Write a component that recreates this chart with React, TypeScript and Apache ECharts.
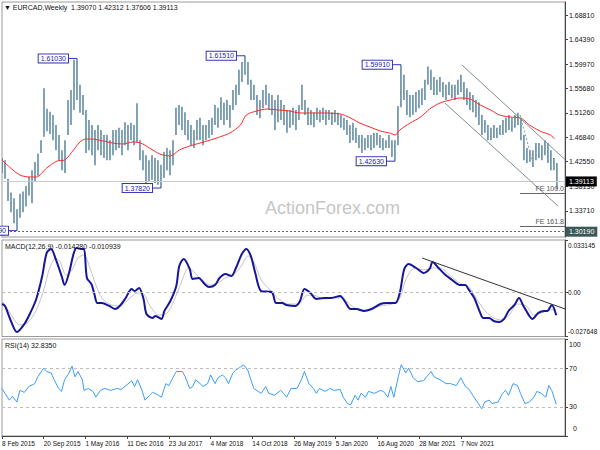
import React, { useEffect, useRef } from 'react';
import * as echarts from 'echarts';

const FONT = "'Liberation Sans', Arial, sans-serif";
const WEEK_SPAN = 377.9;
const BAR_STEP = 2.0134;
const PRICE_MIN = 1.2905;
const PRICE_MAX = 1.7114;
const MACD_MIN = -0.027648;
const MACD_MAX = 0.033145;
const RSI_MIN = 0;
const RSI_MAX = 100;

const xLabels = ['8 Feb 2015', '20 Sep 2015', '1 May 2016', '11 Dec 2016', '23 Jul 2017', '4 Mar 2018', '14 Oct 2018', '26 May 2019', '5 Jan 2020', '16 Aug 2020', '28 Mar 2021', '7 Nov 2021'];
const labelWeeks = xLabels.map((_, k) => k * 28);
const priceTicks = [1.6881, 1.6439, 1.5997, 1.5568, 1.5126, 1.4684, 1.4255, 1.3813, 1.3371];
const macdTicks = [MACD_MIN, 0, MACD_MAX];
const rsiTicks = [0, 30, 70, 100];
const rsiLabelValues = [30, 70, 100];

const lows = [1.405, 1.395, 1.355, 1.335, 1.315, 1.3019, 1.325, 1.335, 1.345, 1.365,
  1.351, 1.390, 1.400, 1.441, 1.470, 1.480, 1.475, 1.464, 1.446, 1.428,
  1.410, 1.405, 1.473, 1.491, 1.518, 1.536, 1.513, 1.509, 1.441, 1.446,
  1.437, 1.419, 1.446, 1.437, 1.432, 1.428, 1.428, 1.437, 1.446, 1.450,
  1.437, 1.455, 1.446, 1.464, 1.455, 1.460, 1.428, 1.410, 1.387, 1.389,
  1.393, 1.387, 1.384, 1.3782, 1.396, 1.410, 1.401, 1.419, 1.473, 1.491,
  1.482, 1.473, 1.464, 1.455, 1.450, 1.464, 1.464, 1.455, 1.464, 1.468,
  1.473, 1.491, 1.486, 1.500, 1.491, 1.500, 1.486, 1.518, 1.527, 1.545,
  1.568, 1.581, 1.563, 1.536, 1.536, 1.509, 1.503, 1.521, 1.527, 1.518,
  1.509, 1.482, 1.496, 1.500, 1.491, 1.477, 1.486, 1.491, 1.482, 1.500,
  1.518, 1.509, 1.491, 1.491, 1.487, 1.500, 1.496, 1.500, 1.491, 1.500,
  1.491, 1.496, 1.491, 1.486, 1.482, 1.473, 1.459, 1.464, 1.459, 1.450,
  1.441, 1.446, 1.450, 1.446, 1.450, 1.455, 1.450, 1.446, 1.450, 1.450,
  1.434, 1.4263, 1.455, 1.523, 1.536, 1.509, 1.505, 1.509, 1.514, 1.521,
  1.527, 1.536, 1.563, 1.554, 1.545, 1.545, 1.550, 1.541, 1.536, 1.545,
  1.539, 1.536, 1.545, 1.550, 1.536, 1.527, 1.518, 1.514, 1.505, 1.491,
  1.473, 1.477, 1.464, 1.464, 1.468, 1.468, 1.473, 1.473, 1.477, 1.482,
  1.479, 1.486, 1.491, 1.464, 1.428, 1.423, 1.425, 1.416, 1.428, 1.432,
  1.428, 1.437, 1.423, 1.410, 1.410, 1.376];

const highs = [1.432, 1.428, 1.395, 1.370, 1.360, 1.340, 1.368, 1.372, 1.382, 1.398,
  1.410, 1.425, 1.440, 1.464, 1.557, 1.520, 1.515, 1.509, 1.491, 1.473,
  1.446, 1.464, 1.536, 1.554, 1.608, 1.6103, 1.563, 1.545, 1.518, 1.500,
  1.491, 1.482, 1.491, 1.482, 1.473, 1.473, 1.464, 1.482, 1.482, 1.486,
  1.482, 1.496, 1.491, 1.495, 1.491, 1.530, 1.464, 1.446, 1.437, 1.428,
  1.437, 1.432, 1.428, 1.420, 1.443, 1.450, 1.446, 1.464, 1.522, 1.527,
  1.524, 1.514, 1.500, 1.491, 1.482, 1.500, 1.504, 1.491, 1.491, 1.500,
  1.504, 1.527, 1.522, 1.541, 1.531, 1.536, 1.527, 1.554, 1.563, 1.590,
  1.604, 1.6151, 1.604, 1.572, 1.563, 1.545, 1.536, 1.554, 1.563, 1.548,
  1.545, 1.536, 1.545, 1.536, 1.527, 1.518, 1.518, 1.522, 1.518, 1.527,
  1.563, 1.536, 1.522, 1.518, 1.514, 1.522, 1.518, 1.522, 1.518, 1.518,
  1.514, 1.518, 1.513, 1.509, 1.504, 1.500, 1.491, 1.495, 1.486, 1.473,
  1.473, 1.468, 1.473, 1.473, 1.477, 1.477, 1.473, 1.468, 1.464, 1.473,
  1.464, 1.464, 1.525, 1.5991, 1.581, 1.554, 1.545, 1.545, 1.550, 1.554,
  1.557, 1.572, 1.596, 1.590, 1.577, 1.572, 1.577, 1.568, 1.563, 1.568,
  1.563, 1.563, 1.572, 1.581, 1.568, 1.557, 1.550, 1.545, 1.536, 1.532,
  1.509, 1.500, 1.491, 1.486, 1.491, 1.486, 1.491, 1.500, 1.504, 1.509,
  1.504, 1.509, 1.513, 1.504, 1.473, 1.450, 1.446, 1.446, 1.459, 1.459,
  1.455, 1.464, 1.459, 1.446, 1.432, 1.423];

const maWeeks = [0, 5, 12, 19, 23, 30, 37, 42, 48, 54, 60, 68, 74, 81, 88, 93, 99, 106, 113, 119, 126, 133, 140, 146, 153, 160, 164, 171, 178, 185, 193, 200, 213, 227, 234, 240, 247, 254, 260, 264, 267, 274, 281, 287, 294, 301, 307, 314, 321, 328, 334, 341, 348, 354, 361, 368, 371];
const maValues = [1.4284, 1.4159, 1.4015, 1.3980, 1.3980, 1.4141, 1.4266, 1.4284, 1.4463, 1.4642, 1.4660, 1.4624, 1.4589, 1.4571, 1.4607, 1.4589, 1.4499, 1.4391, 1.4356, 1.4463, 1.4535, 1.4589, 1.4642, 1.4696, 1.4768, 1.4911, 1.5090, 1.5162, 1.5197, 1.5180, 1.5162, 1.5126, 1.5126, 1.5108, 1.5036, 1.4947, 1.4875, 1.4803, 1.4768, 1.4732, 1.4821, 1.4947, 1.5054, 1.5197, 1.5305, 1.5359, 1.5394, 1.5377, 1.5269, 1.5180, 1.5090, 1.5054, 1.5036, 1.4911, 1.4803, 1.4732, 1.4660];

const macdWeeks = [0, 2, 6, 10, 15, 19, 23, 27, 30, 33, 36, 40, 42, 45, 48, 50, 53, 55, 57, 60, 62, 64, 67, 72, 76, 79, 83, 87, 89, 92, 95, 97, 101, 103, 107, 109, 113, 117, 119, 122, 126, 128, 132, 136, 139, 143, 146, 150, 154, 157, 161, 164, 167, 170, 174, 181, 184, 188, 191, 197, 200, 203, 207, 211, 216, 221, 227, 230, 234, 238, 243, 248, 254, 258, 264, 267, 270, 273, 278, 283, 287, 289, 293, 297, 303, 307, 311, 313, 317, 321, 323, 327, 330, 334, 337, 340, 344, 347, 350, 354, 356, 360, 364, 366, 369, 372];
const macdValues = [-0.0072, -0.0084, -0.0179, -0.0248, -0.0198, -0.0128, -0.0040, 0.0105, 0.0250, 0.0275, 0.0212, 0.0105, 0.0048, 0.0124, 0.0243, 0.0281, 0.0275, 0.0275, 0.0092, 0.0054, -0.0009, -0.0066, -0.0066, -0.0084, -0.0103, -0.0084, -0.0034, 0.0023, 0.0010, 0.0029, -0.0040, -0.0135, -0.0160, -0.0147, -0.0166, -0.0116, -0.0053, 0.0042, 0.0168, 0.0212, 0.0149, 0.0086, 0.0092, 0.0054, 0.0035, 0.0048, 0.0092, 0.0117, 0.0105, 0.0155, 0.0243, 0.0275, 0.0231, 0.0124, 0.0010, 0.0004, -0.0066, -0.0066, -0.0078, -0.0084, -0.0053, 0.0023, -0.0002, -0.0040, -0.0034, -0.0034, -0.0021, -0.0053, -0.0103, -0.0103, -0.0116, -0.0103, -0.0072, -0.0066, -0.0066, -0.0002, 0.0149, 0.0180, 0.0155, 0.0124, 0.0149, 0.0193, 0.0155, 0.0117, 0.0073, 0.0048, 0.0048, 0.0023, -0.0034, -0.0128, -0.0160, -0.0160, -0.0179, -0.0185, -0.0166, -0.0116, -0.0078, -0.0034, -0.0084, -0.0147, -0.0166, -0.0128, -0.0116, -0.0116, -0.0078, -0.0143];

const signalWeeks = [0, 5, 12, 17, 23, 28, 32, 36, 39, 43, 47, 51, 55, 59, 63, 67, 72, 78, 83, 89, 94, 99, 105, 110, 115, 121, 125, 129, 134, 140, 145, 150, 156, 161, 165, 169, 174, 180, 185, 192, 199, 204, 209, 216, 223, 228, 234, 240, 247, 254, 262, 267, 271, 277, 283, 289, 294, 301, 307, 314, 319, 325, 330, 336, 341, 346, 352, 357, 362, 368, 372];
const signalValues = [-0.0047, -0.0122, -0.0204, -0.0191, -0.0110, 0.0016, 0.0155, 0.0218, 0.0193, 0.0111, 0.0143, 0.0218, 0.0237, 0.0155, 0.0048, -0.0034, -0.0072, -0.0084, -0.0059, -0.0009, -0.0002, -0.0078, -0.0141, -0.0135, -0.0059, 0.0080, 0.0155, 0.0130, 0.0080, 0.0048, 0.0061, 0.0092, 0.0117, 0.0174, 0.0231, 0.0193, 0.0080, 0.0016, -0.0034, -0.0072, -0.0072, -0.0021, -0.0015, -0.0040, -0.0034, -0.0034, -0.0078, -0.0110, -0.0110, -0.0084, -0.0072, -0.0034, 0.0080, 0.0155, 0.0143, 0.0155, 0.0155, 0.0105, 0.0061, 0.0029, -0.0047, -0.0122, -0.0160, -0.0173, -0.0135, -0.0072, -0.0084, -0.0141, -0.0128, -0.0110, -0.0109];

const rsiWeeks = [0, 2, 5, 7, 10, 12, 15, 18, 22, 24, 28, 30, 33, 35, 38, 40, 42, 45, 47, 49, 51, 54, 55, 58, 61, 63, 66, 69, 73, 77, 80, 84, 87, 89, 91, 94, 96, 99, 101, 104, 107, 110, 112, 115, 117, 121, 123, 126, 128, 130, 133, 135, 138, 140, 143, 145, 148, 150, 152, 155, 157, 160, 162, 165, 167, 169, 172, 174, 177, 179, 183, 187, 189, 191, 194, 198, 201, 203, 206, 209, 211, 213, 217, 220, 223, 227, 229, 232, 234, 237, 239, 241, 244, 246, 250, 254, 256, 259, 261, 263, 266, 268, 271, 273, 276, 279, 283, 285, 288, 290, 294, 298, 301, 305, 308, 311, 313, 316, 319, 322, 324, 327, 329, 333, 336, 338, 340, 343, 346, 348, 351, 354, 357, 359, 362, 365, 367, 369, 372];
const rsiValues = [49, 44, 37, 41, 35, 47, 45, 51, 54, 61, 70, 66.5, 65, 58, 49, 46, 58, 65, 72, 61, 66.5, 58, 47, 49, 46, 40, 47, 49, 47, 49, 48, 53, 57, 51, 58, 47, 37, 42, 45, 43, 40, 54, 52, 61, 66.5, 66.5, 61, 49, 51, 58, 54, 51, 54, 63, 54, 60, 63, 60, 54, 65, 68, 71, 73.5, 68, 58, 49, 46, 44, 51, 44, 42, 47, 44, 40, 49, 49, 58, 66.5, 54, 49, 44, 49, 46, 49, 47, 48, 40, 33.5, 32, 42, 37, 44, 40, 46, 44, 47, 46, 40, 51, 40, 61, 73.5, 65, 70, 60, 56, 57, 61, 66.5, 61, 58, 54, 54, 52, 60, 51, 49, 42, 35, 28, 35, 37, 33.5, 35, 44, 47, 42, 54, 52, 44, 33.5, 35, 40, 46, 44, 40, 52, 47, 32.8];

const pivotBars = [5, 25, 53, 81, 131, 133];
const pivotPrices = [1.3019, 1.6103, 1.3782, 1.6151, 1.4263, 1.5991];

const lastPrice = 1.39113;
const supportPrice = 1.3019;
const fibLevels = [{ name: 'FE 100.0', price: 1.3693 }, { name: 'FE 161.8', price: 1.3102 }];
const fibStartWeek = 347.7;
const channelUpper = [[308.7, 1.5986], [377.9, 1.4293]];
const channelLower = [[297.3, 1.5305], [373.2, 1.3460]];
const innerDotted = [[347.7, 1.5090], [356.4, 1.4230]];
const macdTrend = [[282, 0.0218], [377.9, -0.0103]];

const txt = { fontSize: 7, fontFamily: FONT, color: '#111' };
const txtSmall = { fontSize: 6.5, fontFamily: FONT, color: '#111' };

function edgeRich(t: any) {
  return {
    top: { padding: [10, 0, 0, 0], ...t },
    bot: { padding: [0, 0, 11, 0], ...t },
  };
}

function xAxis(gridIndex: number, showLabels: boolean) {
  return {
    type: 'value', gridIndex, min: 0, max: WEEK_SPAN,
    axisLine: { show: showLabels, onZero: false, lineStyle: { color: '#444' } },
    axisTick: showLabels
      ? { show: true, customValues: labelWeeks, length: 3, lineStyle: { color: '#444' } }
      : { show: false },
    axisLabel: showLabels
      ? { show: true, customValues: labelWeeks, formatter: (v: number) => xLabels[Math.round(v / 28)] ?? '', align: 'left', margin: 4, ...txtSmall }
      : { show: false },
    splitLine: { show: false },
  };
}

function yAxisCfg(gridIndex: number, min: number, max: number, ticks: number[], labelValues: number[], formatter: (v: number) => string, t: any, margin: number) {
  return {
    type: 'value', gridIndex, position: 'right', min, max,
    axisLine: { show: true, onZero: false, lineStyle: { color: '#444' } },
    axisTick: { show: true, customValues: ticks, length: 3, lineStyle: { color: '#444' } },
    axisLabel: { show: true, showMinLabel: true, showMaxLabel: true, customValues: labelValues, formatter, margin, rich: edgeRich(t), ...t },
    splitLine: { show: false },
  };
}

const gridBase = { show: true, borderColor: '#9a9a9a', borderWidth: 1, left: 2, width: 563, outerBoundsMode: 'none' };

const lineStyleCh = { color: '#7f8f8f', width: 1, type: 'solid' };

const option = {
  animation: false,
  backgroundColor: '#ffffff',
  title: [
    { text: '▼ EURCAD,Weekly  1.39070 1.42312 1.37606 1.39113', left: 4, top: 4, padding: 0, textStyle: { ...txt, fontWeight: 'normal' } },
    { text: 'MACD(12,26,9) -0.014280 -0.010939', left: 5, top: 243, padding: 0, textStyle: { ...txt, fontWeight: 'normal' } },
    { text: 'RSI(14) 32.8350', left: 5, top: 342, padding: 0, textStyle: { ...txt, fontWeight: 'normal' } },
    { text: String(RSI_MIN), left: 573, top: 425, padding: 0, textStyle: { ...txt, fontWeight: 'normal' } },
  ],
  graphic: [
    { type: 'text', left: 265, top: 199, z: 0, style: { text: 'ActionForex.com', fontSize: 18, fontFamily: FONT, fill: '#c6c6c6' } },
  ],
  grid: [
    { ...gridBase, top: 2, height: 235 },
    { ...gridBase, top: 240, height: 96.5 },
    { ...gridBase, top: 339, height: 97 },
  ],
  xAxis: [xAxis(0, false), xAxis(1, false), xAxis(2, true)],
  yAxis: [
    yAxisCfg(0, PRICE_MIN, PRICE_MAX, priceTicks, priceTicks, (v: number) => v.toFixed(5), txt, 4),
    yAxisCfg(1, MACD_MIN, MACD_MAX, macdTicks, macdTicks, (v: number) => {
      const t = Math.abs(v) < 1e-12 ? '0.00' : v.toFixed(6);
      if (Math.abs(v - MACD_MAX) < 1e-9) return `{top|${t}}`;
      if (Math.abs(v - MACD_MIN) < 1e-9) return `{bot|${t}}`;
      return t;
    }, txtSmall, 3),
    yAxisCfg(2, RSI_MIN, RSI_MAX, rsiTicks, rsiLabelValues, (v: number) => {
      if (Math.abs(v - 100) < 1e-9) return '{top|100}';
      return String(v);
    }, txt, 4),
  ],
  series: [
    {
      type: 'custom', name: 'EURCAD', xAxisIndex: 0, yAxisIndex: 0, clip: true, z: 2,
      data: lows.map((l, i) => [i * BAR_STEP, l, highs[i]]),
      encode: { x: 0, y: [1, 2] },
      renderItem: (params: any, api: any) => {
        const x = api.value(0);
        const lo = api.coord([x, api.value(1)]);
        const hi = api.coord([x, api.value(2)]);
        return { type: 'line', shape: { x1: lo[0], y1: lo[1], x2: hi[0], y2: hi[1] }, style: { stroke: '#4d7c98', lineWidth: 1.4 } };
      },
    },
    {
      type: 'line', name: 'MA', xAxisIndex: 0, yAxisIndex: 0, z: 3,
      data: maWeeks.map((w, i) => [w, maValues[i]]),
      smooth: 0.3, showSymbol: false, lineStyle: { color: '#ff2a2a', width: 1 },
      markLine: {
        silent: true, symbol: ['none', 'none'], animation: false,
        label: { show: false },
        data: [
          { yAxis: lastPrice, lineStyle: { color: '#cccccc', type: 'solid', width: 1 }, label: { show: true, position: 'end', formatter: lastPrice.toFixed(5), color: '#fff', backgroundColor: '#000', padding: [2, 3, 1, 3], distance: 1, fontSize: 7, fontFamily: FONT } },
          { yAxis: supportPrice, lineStyle: { color: '#666', type: [2, 2], width: 1 }, label: { show: true, position: 'end', formatter: supportPrice.toFixed(5), color: '#fff', backgroundColor: '#3c5959', padding: [2, 3, 1, 3], distance: 1, fontSize: 7, fontFamily: FONT } },
          ...fibLevels.map((f) => [
            { coord: [fibStartWeek, f.price], lineStyle: { color: '#666', type: 'solid', width: 1 }, label: { show: true, position: 'insideEndTop', formatter: f.name, color: '#555', distance: 1, fontSize: 7, fontFamily: FONT } },
            { coord: [WEEK_SPAN, f.price] },
          ]),
          [{ coord: channelUpper[0], lineStyle: lineStyleCh }, { coord: channelUpper[1] }],
          [{ coord: channelLower[0], lineStyle: lineStyleCh }, { coord: channelLower[1] }],
          [{ coord: innerDotted[0], lineStyle: { color: '#8a9a9a', width: 1, type: [2, 2] } }, { coord: innerDotted[1] }],
        ],
      },
    },
    {
      type: 'custom', name: 'pivots', xAxisIndex: 0, yAxisIndex: 0, z: 5, clip: false,
      data: pivotBars.map((b, i) => [b * BAR_STEP, pivotPrices[i]]),
      encode: { x: 0, y: 1 },
      renderItem: (params: any, api: any) => {
        const pt = api.coord([api.value(0), api.value(1)]);
        const label = pivotPrices[params.dataIndex].toFixed(5);
        return {
          type: 'group',
          children: [
            { type: 'line', shape: { x1: pt[0] - 9, y1: pt[1], x2: pt[0], y2: pt[1] }, style: { stroke: '#3434b8', lineWidth: 1 } },
            { type: 'text', x: pt[0] - 9, y: pt[1], style: { text: label, align: 'right', verticalAlign: 'middle', fill: '#24249e', fontSize: 7, fontFamily: FONT, backgroundColor: '#ffffff', borderColor: '#3434b8', borderWidth: 1, padding: [1, 2, 0, 2] } },
          ],
        };
      },
    },
    {
      type: 'line', name: 'Signal', xAxisIndex: 1, yAxisIndex: 1, z: 2,
      data: signalWeeks.map((w, i) => [w, signalValues[i]]),
      smooth: 0.3, showSymbol: false, lineStyle: { color: '#c4c4c4', width: 1 },
      markLine: {
        silent: true, symbol: ['none', 'none'], animation: false, label: { show: false },
        data: [
          { yAxis: 0, lineStyle: { color: '#bdbdbd', type: [3, 3], width: 1 } },
          [{ coord: macdTrend[0], lineStyle: { color: '#333', type: 'solid', width: 1 } }, { coord: macdTrend[1] }],
        ],
      },
    },
    {
      type: 'line', name: 'MACD', xAxisIndex: 1, yAxisIndex: 1, z: 3,
      data: macdWeeks.map((w, i) => [w, macdValues[i]]),
      smooth: 0.3, showSymbol: false, lineStyle: { color: '#16169a', width: 2 },
    },
    {
      type: 'line', name: 'RSI', xAxisIndex: 2, yAxisIndex: 2, z: 3,
      data: rsiWeeks.map((w, i) => [w, rsiValues[i]]),
      showSymbol: false, lineStyle: { color: '#3b9cff', width: 1 },
      markLine: {
        silent: true, symbol: ['none', 'none'], animation: false, label: { show: false },
        data: [
          { yAxis: 70, lineStyle: { color: '#bdbdbd', type: [3, 3], width: 1 } },
          { yAxis: 30, lineStyle: { color: '#bdbdbd', type: [3, 3], width: 1 } },
        ],
      },
    },
  ],
};

export default function App() {
  const ref = useRef<HTMLDivElement>(null);
  useEffect(() => {
    const chart = echarts.init(ref.current!, null, { renderer: 'svg' });
    chart.setOption(option as any);
    return () => chart.dispose();
  }, []);
  return <div ref={ref} style={{ position: 'fixed', left: 0, top: 0, width: 600, height: 450, background: '#fff' }} />;
}
